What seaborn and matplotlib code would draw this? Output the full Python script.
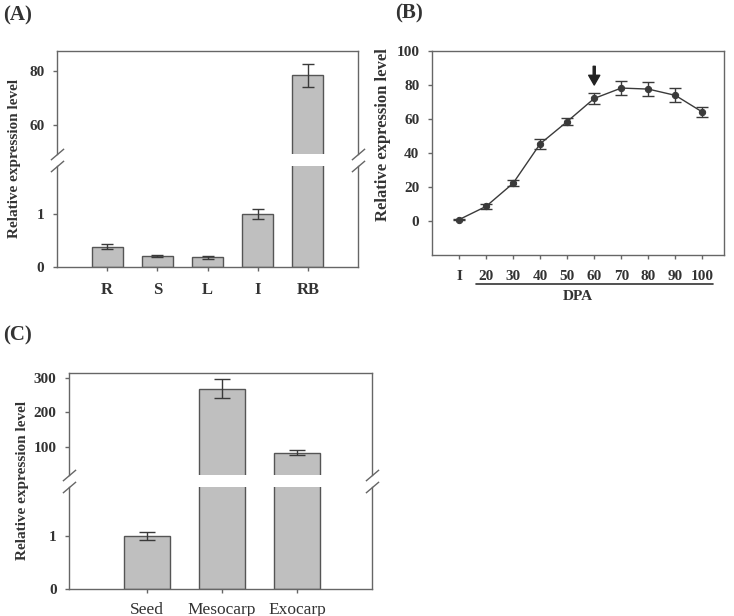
import numpy as np
import matplotlib
matplotlib.use("Agg")
import matplotlib.pyplot as plt
import seaborn as sns

# (A) expression in different tissues
tissues = ["R", "S", "L", "I", "RB"]
tissue_expr = [0.38, 0.21, 0.18, 1.0, 78.4]
tissue_err = [0.045, 0.015, 0.025, 0.09, 4.2]

# (B) expression during fruit development (days post anthesis)
stages = ["I", "20", "30", "40", "50", "60", "70", "80", "90", "100"]
stage_expr = [0.8, 8.6, 22.2, 45.4, 58.5, 72.1, 78.2, 77.6, 73.9, 64.1]
stage_err = [0.5, 1.4, 1.8, 3.1, 2.2, 3.1, 4.1, 4.3, 4.1, 2.7]

# (C) expression in fruit parts
fruit_parts = ["Seed", "Mesocarp", "Exocarp"]
fruit_expr = [1.0, 268.6, 84.8]
fruit_err = [0.075, 28.0, 7.6]

W, H = 734, 616
BAR = "#bfbfbf"
EDGE = "#555555"
TEXT = "#333333"
LINE = "#3a3a3a"


def px_axes(fig, left, top, right, bottom):
    # place an axes from pixel edges
    return fig.add_axes([left / W, 1 - bottom / H, (right - left) / W, (bottom - top) / H])


def style_axes(ax):
    for s in ax.spines.values():
        s.set_color("#666666")
        s.set_linewidth(1)
    ax.tick_params(direction="out", length=3, width=1, color="#666666", labelcolor=TEXT)


def draw_break(ax_top, ax_bot):
    # hide inner spines and draw the "//" marks at both sides
    ax_top.spines["bottom"].set_visible(False)
    ax_bot.spines["top"].set_visible(False)
    ax_top.tick_params(bottom=False, labelbottom=False)
    kw = dict(marker=[(-1, -0.85), (1, 0.85)], markersize=9.5, linestyle="none",
              color="#666666", mec="#666666", mew=1, clip_on=False)
    ax_top.plot([0, 1], [0, 0], transform=ax_top.transAxes, **kw)
    ax_bot.plot([0, 1], [1, 1], transform=ax_bot.transAxes, **kw)


def bars(ax, cats, vals, errs, width, capsize):
    sns.barplot(x=cats, y=vals, color=BAR, edgecolor=EDGE, linewidth=1,
                width=width, saturation=1, errorbar=None, ax=ax)
    ax.errorbar(np.arange(len(cats)), vals, yerr=errs, fmt="none",
                ecolor=LINE, elinewidth=1, capsize=capsize, capthick=1)
    ax.set_xlabel("")
    ax.set_ylabel("")


def plot_tissues(fig):
    ax_top = px_axes(fig, 57, 51, 358, 154)
    ax_bot = px_axes(fig, 57, 166, 358, 267)
    for ax in (ax_top, ax_bot):
        bars(ax, tissues, tissue_expr, tissue_err, 0.62, 4.5)
        style_axes(ax)
        ax.set_xlim(-1, 5)
    ax_top.set_ylim(49.3, 87.4)
    ax_top.set_yticks([60, 80])
    ax_bot.set_ylim(0, 1.9)
    ax_bot.set_yticks([0, 1])
    for ax in (ax_top, ax_bot):
        for lab in ax.get_yticklabels():
            lab.set_fontsize(11)
            lab.set_fontweight("bold")
    for lab in ax_bot.get_xticklabels():
        lab.set_fontsize(12)
        lab.set_fontweight("bold")
    ax_bot.tick_params(axis="x", pad=8)
    ax_top.tick_params(axis="y", pad=6)
    ax_bot.tick_params(axis="y", pad=6)
    draw_break(ax_top, ax_bot)
    fig.text(15 / W, 1 - 158 / H, "Relative expression level", rotation=90,
             ha="center", va="center", fontsize=11, fontweight="bold", color=TEXT)
    fig.text(18 / W, 1 - 15 / H, "(A)", ha="center", va="center",
             fontsize=15, fontweight="bold", color=TEXT)


def plot_development(fig):
    ax = px_axes(fig, 432, 51, 724, 255)
    x = np.arange(len(stages))
    ax.errorbar(x, stage_expr, yerr=stage_err, fmt="none", ecolor=LINE,
                elinewidth=1, capsize=4.5, capthick=1, zorder=2)
    sns.pointplot(x=stages, y=stage_expr, color=LINE, markers="o", markersize=4.5,
                  linewidth=1, errorbar=None, ax=ax)
    style_axes(ax)
    ax.set_xlim(-1, 9.8)
    ax.set_ylim(-20, 100)
    ax.set_yticks([0, 20, 40, 60, 80, 100])
    for lab in ax.get_xticklabels() + ax.get_yticklabels():
        lab.set_fontsize(11)
        lab.set_fontweight("bold")
    ax.tick_params(axis="x", pad=8)
    ax.tick_params(axis="y", pad=6)
    ax.set_ylabel("")
    # underline for the DPA stages
    ax.plot([0.62, 9.4], [-0.142, -0.142], color=TEXT, lw=1.2,
            transform=ax.get_xaxis_transform(), clip_on=False)
    ax.set_xlabel("DPA", fontsize=11, fontweight="bold", color=TEXT, labelpad=5)
    # arrow marking 60 DPA
    ax.annotate("", xy=(5, 80), xytext=(5, 91),
                arrowprops=dict(facecolor="#222222", edgecolor="#222222",
                                width=1.5, headwidth=8, headlength=7))
    fig.text(383 / W, 1 - 135 / H, "Relative expression level", rotation=90,
             ha="center", va="center", fontsize=12, fontweight="bold", color=TEXT)
    fig.text(409 / W, 1 - 13 / H, "(B)", ha="center", va="center",
             fontsize=15, fontweight="bold", color=TEXT)


def plot_fruit(fig):
    ax_top = px_axes(fig, 69, 373, 372, 475)
    ax_bot = px_axes(fig, 69, 487, 372, 589)
    for ax in (ax_top, ax_bot):
        bars(ax, fruit_parts, fruit_expr, fruit_err, 0.61, 5.5)
        style_axes(ax)
        ax.set_xlim(-1.04, 3.0)
    ax_top.set_ylim(21, 313)
    ax_top.set_yticks([100, 200, 300])
    ax_bot.set_ylim(0, 1.92)
    ax_bot.set_yticks([0, 1])
    for ax in (ax_top, ax_bot):
        for lab in ax.get_yticklabels():
            lab.set_fontsize(11)
            lab.set_fontweight("bold")
        ax.tick_params(axis="y", pad=6)
    for lab in ax_bot.get_xticklabels():
        lab.set_fontsize(12.5)
    ax_bot.tick_params(axis="x", pad=6)
    draw_break(ax_top, ax_bot)
    fig.text(23 / W, 1 - 480 / H, "Relative expression level", rotation=90,
             ha="center", va="center", fontsize=11, fontweight="bold", color=TEXT)
    fig.text(17 / W, 1 - 335 / H, "(C)", ha="center", va="center",
             fontsize=15, fontweight="bold", color=TEXT)


def main():
    sns.set_style("ticks")
    plt.rcParams["font.family"] = ["Liberation Serif", "DejaVu Serif"]
    fig = plt.figure(figsize=(W / 100, H / 100), dpi=100)
    plot_tissues(fig)
    plot_development(fig)
    plot_fruit(fig)
    fig.savefig("out.png", dpi=100, facecolor="white")
    plt.close(fig)


if __name__ == "__main__":
    main()
